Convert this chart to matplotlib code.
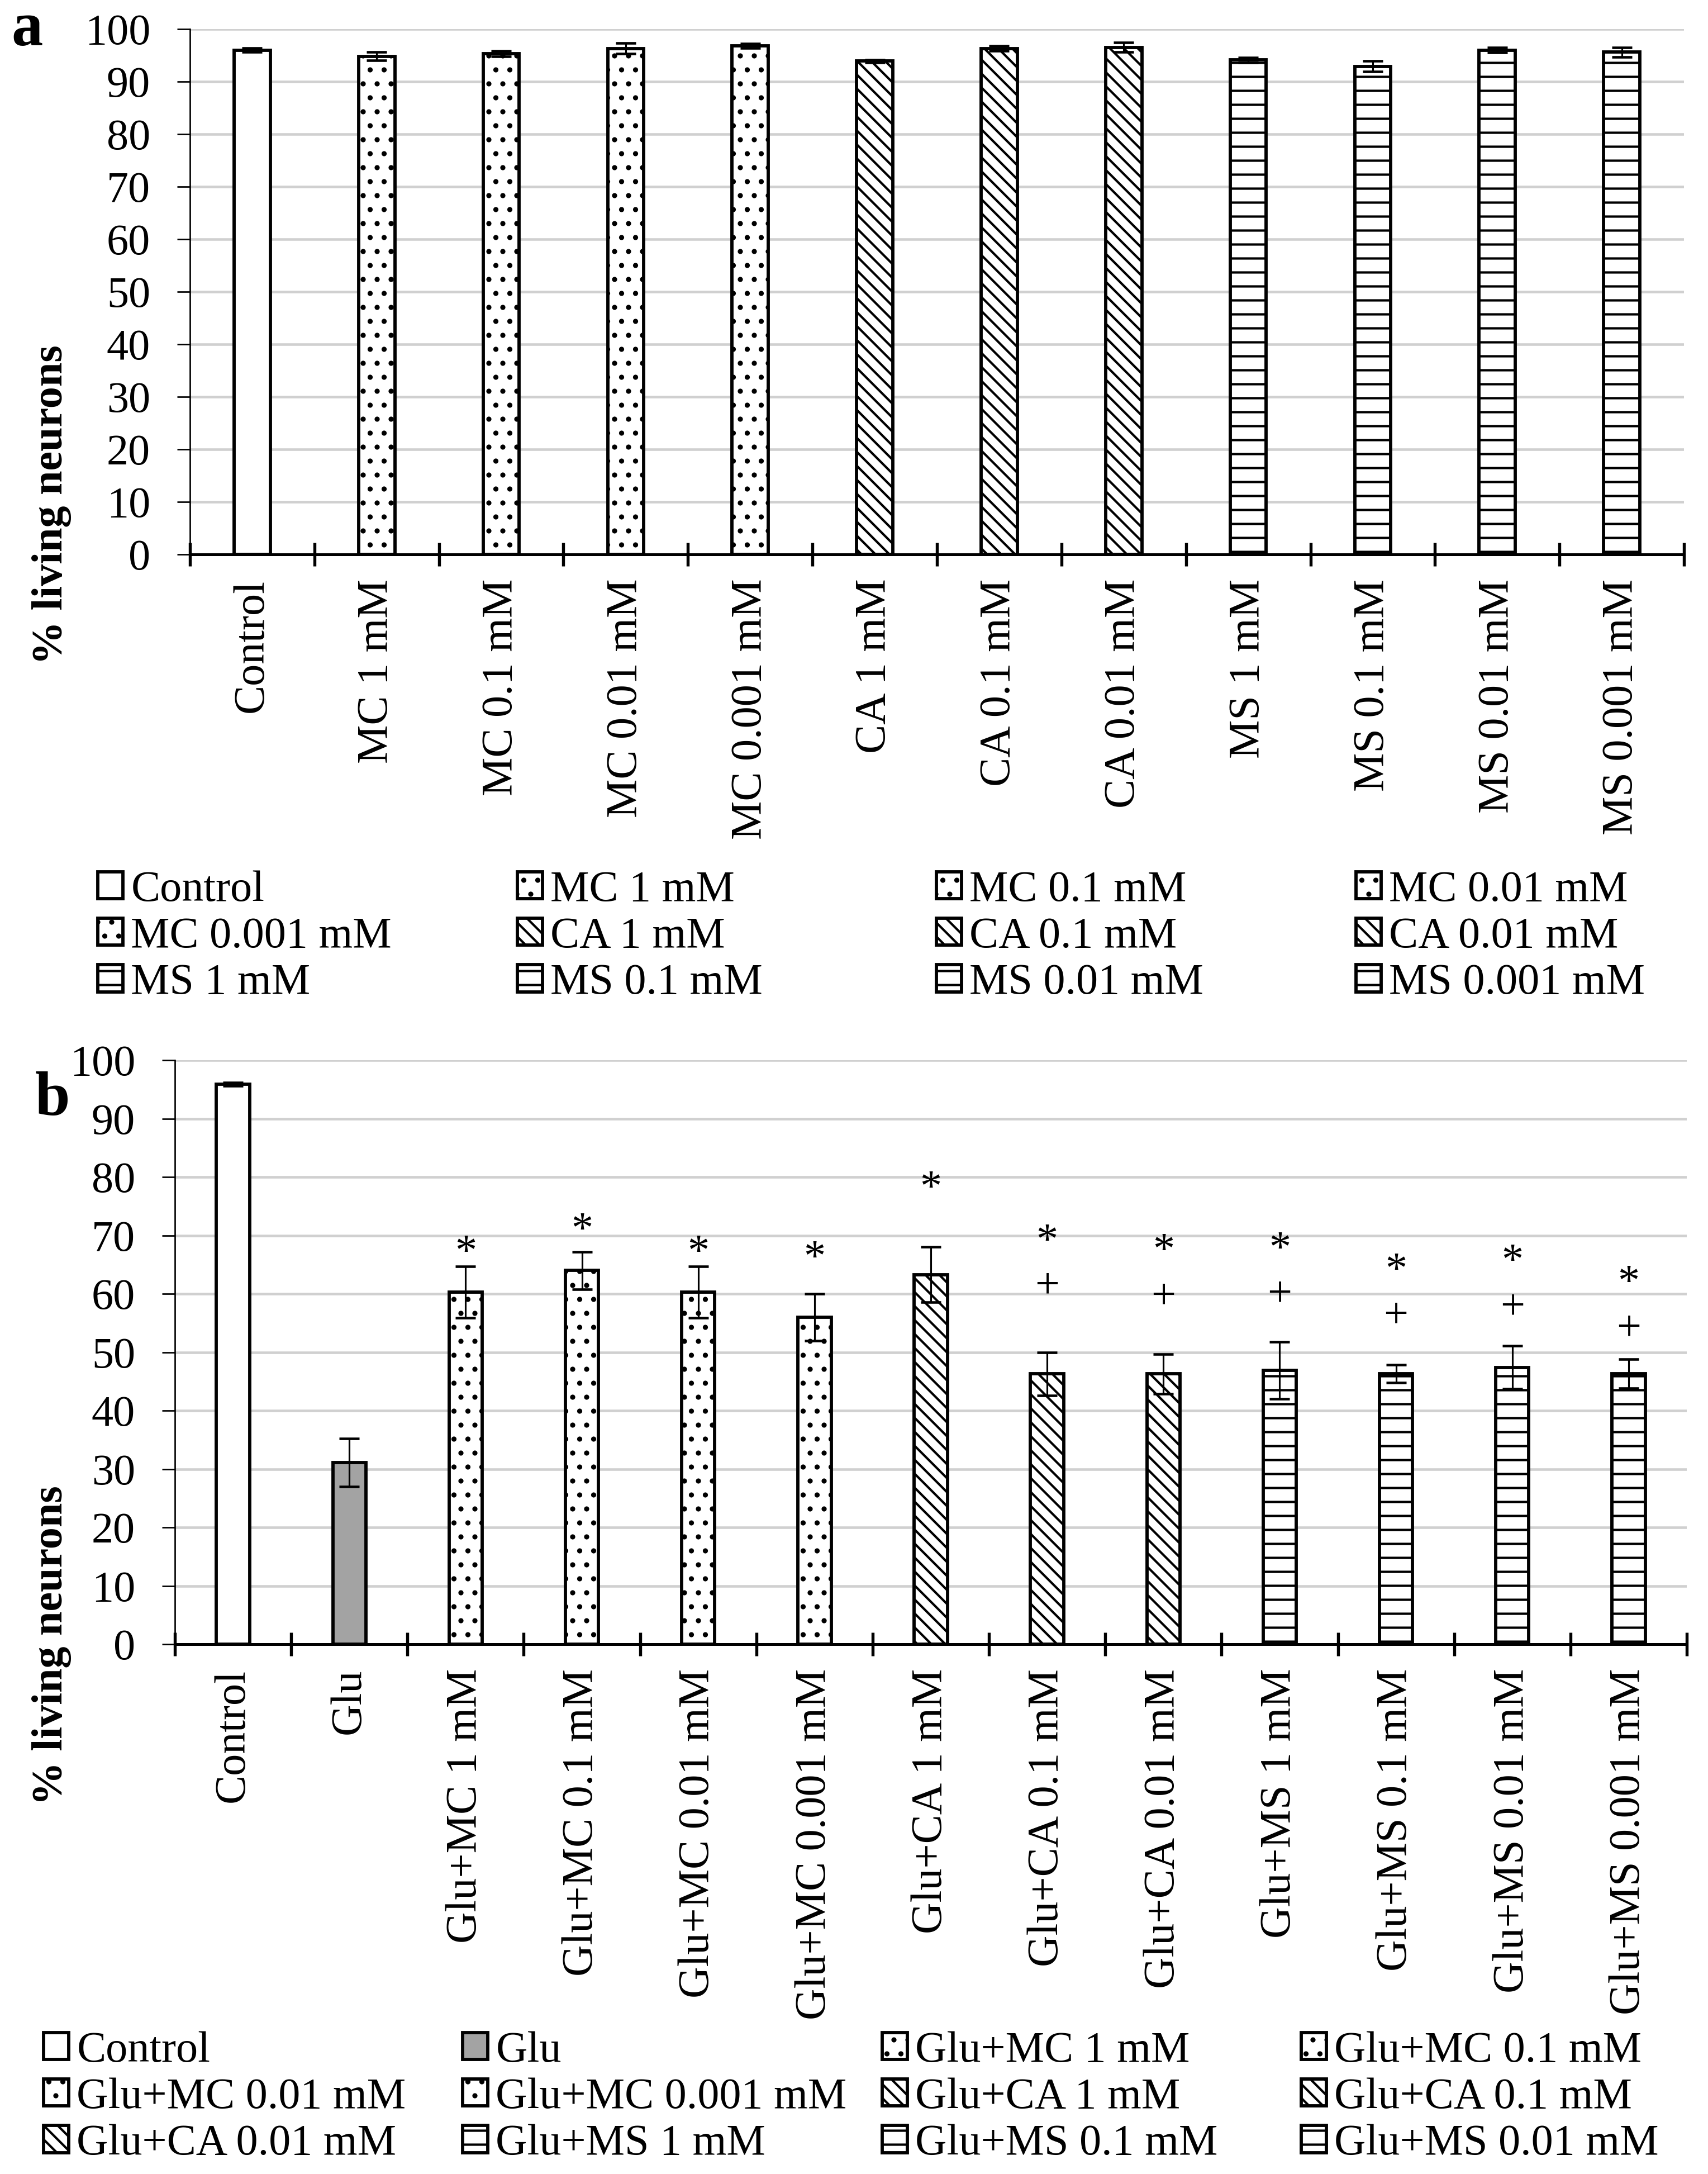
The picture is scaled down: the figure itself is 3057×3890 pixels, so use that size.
import numpy as np
import matplotlib
matplotlib.use('Agg')
import matplotlib.pyplot as plt

plt.rcParams['font.family'] = ['Liberation Serif', 'DejaVu Serif']
plt.rcParams['hatch.linewidth'] = 2.0

W, H, DPI = 3057, 3890, 150
FS = 37.5

# Panel a: compounds alone
a_labels = ['Control', 'MC 1 mM', 'MC 0.1 mM', 'MC 0.01 mM', 'MC 0.001 mM',
            'CA 1 mM', 'CA 0.1 mM', 'CA 0.01 mM',
            'MS 1 mM', 'MS 0.1 mM', 'MS 0.01 mM', 'MS 0.001 mM']
a_values = [96.0, 94.8, 95.3, 96.3, 96.8, 93.9, 96.3, 96.5, 94.1, 92.9, 96.0, 95.6]
a_errors = [0.4, 0.8, 0.5, 1.0, 0.4, 0.3, 0.5, 0.9, 0.5, 1.0, 0.5, 0.9]
a_groups = ['ctrl', 'MC', 'MC', 'MC', 'MC', 'CA', 'CA', 'CA', 'MS', 'MS', 'MS', 'MS']

# Panel b: glutamate + compounds
b_labels = ['Control', 'Glu', 'Glu+MC 1 mM', 'Glu+MC 0.1 mM', 'Glu+MC 0.01 mM',
            'Glu+MC 0.001 mM', 'Glu+CA 1 mM', 'Glu+CA 0.1 mM', 'Glu+CA 0.01 mM',
            'Glu+MS 1 mM', 'Glu+MS 0.1 mM', 'Glu+MS 0.01 mM', 'Glu+MS 0.001 mM']
b_values = [95.9, 31.1, 60.3, 64.0, 60.3, 56.0, 63.3, 46.3, 46.3, 46.9, 46.3, 47.4, 46.3]
b_errors = [0.3, 4.1, 4.4, 3.2, 4.4, 4.0, 4.7, 3.7, 3.4, 4.9, 1.5, 3.7, 2.5]
b_groups = ['ctrl', 'glu', 'MC', 'MC', 'MC', 'MC', 'CA', 'CA', 'CA', 'MS', 'MS', 'MS', 'MS']
# positions of the significance marks (centre of the glyph)
b_star_y = [None, None, 68.8, 72.6, 68.8, 67.9, 79.8, 70.7, 69.1, 69.4, 65.7, 67.3, 63.6]
b_plus_y = [None, None, None, None, None, None, None, 61.2, 59.4, 59.8, 56.2, 57.6, 54.0]

STYLES = {'ctrl': ('white', None), 'glu': ('#a3a3a3', None),
          'MC': ('white', '.'), 'CA': ('white', '\\\\'), 'MS': ('white', '-')}


def draw_panel(ax, labels, values, errors, groups, width):
    x = np.arange(len(labels))
    bars = ax.bar(x, values, width=width, edgecolor='black', linewidth=2.8, zorder=2)
    for bar, g in zip(bars, groups):
        face, hatch = STYLES[g]
        bar.set_facecolor(face)
        if hatch:
            bar.set_hatch(hatch)
    ax.errorbar(x, values, yerr=errors, fmt='none', ecolor='black',
                elinewidth=1.5, capsize=8.5, capthick=2.2, zorder=3)
    ax.set_xlim(-0.5, len(labels) - 0.5)
    ax.set_ylim(0, 100)
    ax.set_yticks(np.arange(0, 101, 10))
    ax.set_xticks(x)
    ax.set_xticklabels(labels, rotation=90, va='top', ha='center')
    ax.set_xticks(np.arange(-0.5, len(labels), 1.0), minor=True)
    ax.tick_params(axis='x', which='major', length=0, pad=21, labelsize=FS)
    ax.tick_params(axis='x', which='minor', direction='inout', length=20, width=2.6)
    ax.tick_params(axis='y', direction='out', length=11, width=1.3, pad=23, labelsize=FS)
    ax.yaxis.grid(True, color='#d0d0d0', linewidth=2.2)
    ax.set_axisbelow(True)
    for s in ['top', 'right']:
        ax.spines[s].set_visible(False)
    ax.spines['left'].set_linewidth(1.3)
    ax.spines['bottom'].set_linewidth(2.4)
    return list(bars)


def add_legend(fig, handles, labels, col_x, row_y):
    # one legend per column so the columns sit at even spacing, filled row by row
    for c, x0 in enumerate(col_x):
        fig.legend(handles[c::4], labels[c::4], loc='center left',
                   bbox_to_anchor=(x0 / W, 1 - row_y[1] / H), frameon=False,
                   borderpad=0, borderaxespad=0, handlelength=0.58, handleheight=0.58,
                   handletextpad=0.18, labelspacing=0.15, fontsize=FS)


fig = plt.figure(figsize=(W / DPI, H / DPI), dpi=DPI)
ax_a = fig.add_axes([340 / W, 1 - 992 / H, (3014 - 340) / W, (992 - 52) / H])
ax_b = fig.add_axes([313 / W, 1 - 2942 / H, (3019 - 313) / W, (2942 - 1897) / H])

bars_a = draw_panel(ax_a, a_labels, a_values, a_errors, a_groups, 0.29)
bars_b = draw_panel(ax_b, b_labels, b_values, b_errors, b_groups, 0.285)

for i, (ys, yp) in enumerate(zip(b_star_y, b_plus_y)):
    if ys is not None:
        ax_b.annotate('*', xy=(i, ys), xytext=(0, -0.5 * FS), textcoords='offset points',
                      ha='center', va='baseline', fontsize=FS)
    if yp is not None:
        ax_b.annotate('+', xy=(i, yp), xytext=(0, -0.25 * FS), textcoords='offset points',
                      ha='center', va='baseline', fontsize=FS)

add_legend(fig, bars_a, a_labels, [175, 926, 1676, 2427], [1594, 1676, 1758])
# the reference legend only shows the first twelve entries
add_legend(fig, bars_b[:12], b_labels[:12], [78, 828, 1579, 2329], [3675, 3753, 3832])

fig.text(93 / W, 1 - 903 / H, '% living neurons', rotation=90, fontweight='bold',
         fontsize=FS, ha='center', va='center')
fig.text(93 / W, 1 - 2944 / H, '% living neurons', rotation=90, fontweight='bold',
         fontsize=FS, ha='center', va='center')
fig.text(49 / W, 1 - 54 / H, 'a', fontweight='bold', fontsize=54, ha='center', va='center')
fig.text(94 / W, 1 - 1968 / H, 'b', fontweight='bold', fontsize=54, ha='center', va='center')

fig.savefig('out.png', dpi=DPI)
